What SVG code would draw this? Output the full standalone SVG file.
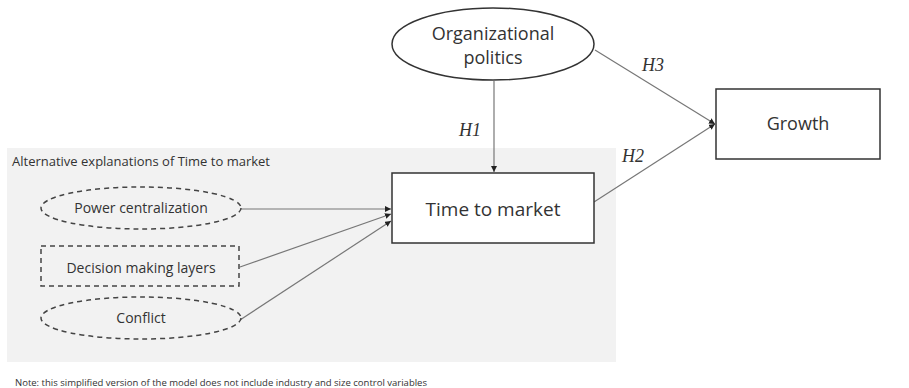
<svg xmlns="http://www.w3.org/2000/svg" width="909" height="388" viewBox="0 0 909 388">
  <style>
    .lbl { font-family: "Open Sans", "Liberation Sans", sans-serif; fill: #333; text-anchor: middle; }
    .hyp { font-family: "Liberation Serif", serif; font-style: italic; font-size: 18px; fill: #333; }
    .solid { fill: #fff; stroke: #333; stroke-width: 1.5; }
    .dash { fill: none; stroke: #444; stroke-width: 1.5; stroke-dasharray: 5 4; }
    .conn { stroke: #777; stroke-width: 1.2; fill: none; marker-end: url(#arrow); }
  </style>
  <defs>
    <marker id="arrow" viewBox="0 0 10 10" refX="10" refY="5" markerWidth="6" markerHeight="6" markerUnits="userSpaceOnUse" orient="auto">
      <path d="M0,0 L10,5 L0,10 z" fill="#222"/>
    </marker>
  </defs>

  <rect width="909" height="388" fill="#fff"/>

  <!-- panel of alternative explanations -->
  <g id="alt-panel">
    <rect x="7" y="148" width="609" height="214" fill="#f2f2f2"/>
    <text x="12" y="166" font-family="'Open Sans', 'Liberation Sans', sans-serif" font-size="13" fill="#333">Alternative explanations of Time to market</text>
  </g>

  <g id="connectors">
    <line class="conn" x1="494" y1="81" x2="494" y2="172"/>
    <line class="conn" x1="595" y1="50" x2="715" y2="124"/>
    <line class="conn" x1="594" y1="202" x2="715" y2="124"/>
    <line class="conn" x1="241" y1="209" x2="391" y2="209"/>
    <line class="conn" x1="240" y1="267" x2="391" y2="214"/>
    <line class="conn" x1="240" y1="320" x2="391" y2="221"/>
    <text class="hyp" x="459" y="136">H1</text>
    <text class="hyp" x="642" y="71">H3</text>
    <text class="hyp" x="622" y="162">H2</text>
  </g>

  <g id="org-politics">
    <ellipse class="solid" cx="493" cy="44" rx="101" ry="36"/>
    <text class="lbl" x="493" y="40" font-size="18">Organizational</text>
    <text class="lbl" x="493" y="64" font-size="18">politics</text>
  </g>

  <g id="time-to-market">
    <rect class="solid" x="392" y="173" width="202" height="70"/>
    <text class="lbl" x="493" y="216" font-size="19">Time to market</text>
  </g>

  <g id="growth">
    <rect class="solid" x="716" y="89" width="164" height="70"/>
    <text class="lbl" x="798" y="130" font-size="18">Growth</text>
  </g>

  <g id="power-centralization">
    <ellipse class="dash" cx="141" cy="208" rx="100" ry="21"/>
    <text class="lbl" x="141" y="213" font-size="14">Power centralization</text>
  </g>

  <g id="decision-layers">
    <rect class="dash" x="41" y="246" width="198" height="40"/>
    <text class="lbl" x="141" y="273" font-size="14">Decision making layers</text>
  </g>

  <g id="conflict">
    <ellipse class="dash" cx="141" cy="318" rx="100" ry="21"/>
    <text class="lbl" x="141" y="323" font-size="14">Conflict</text>
  </g>

  <text x="15" y="386" font-family="'Open Sans', 'Liberation Sans', sans-serif" font-size="8.5" fill="#333" textLength="412" lengthAdjust="spacingAndGlyphs">Note: this simplified version of the model does not include industry and size control variables</text>
</svg>
